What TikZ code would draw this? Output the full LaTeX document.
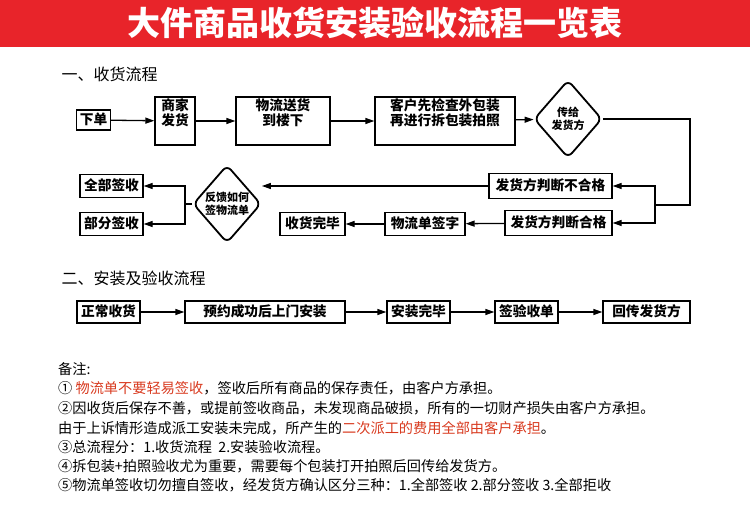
\documentclass[tikz,border=0pt]{standalone}
\usepackage{fontspec}
\setmainfont{Noto Sans CJK SC}
\usetikzlibrary{shapes.geometric,arrows.meta}
\definecolor{hdr}{HTML}{E8242A}
\definecolor{rd}{HTML}{D8391E}
\begin{document}
\begin{tikzpicture}[x=1pt,y=-1pt,
  bx/.style={draw,line width=1.3pt,font=\bfseries\fontsize{13.7}{15.5}\selectfont,inner sep=0pt,align=center,text height=11pt},
  dm/.style={draw,line width=1.8pt,diamond,aspect=0.85,inner sep=0pt,minimum width=68pt,minimum height=78pt,font=\bfseries\fontsize{11}{13}\selectfont,align=center,rounded corners=6pt},
  ar/.style={line width=1.3pt,-{Triangle[length=9pt,width=6pt]}},
  ln/.style={line width=1.3pt},
  nt/.style={anchor=west,font=\fontsize{14.2}{16}\selectfont,inner sep=0pt}]
\useasboundingbox (0,0) rectangle (750,529);
\fill[hdr] (0,0) rectangle (750,47);
\node[text=white,font=\bfseries\fontsize{33}{36}\selectfont] (title) at (375,23) {大件商品收货安装验收流程一览表};
\node[anchor=west,font=\fontsize{16}{18}\selectfont] (s1) at (58,74) {一、收货流程};
\node[bx,minimum width=34pt,minimum height=20pt] (a) at (93.5,120) {下单};
\node[bx,minimum width=40pt,minimum height=48pt] (b) at (175,121) {商家\\发货};
\node[bx,minimum width=94pt,minimum height=48pt] (c) at (283,121) {物流送货\\到楼下};
\node[bx,minimum width=140pt,minimum height=48pt] (d) at (445,121) {客户先检查外包装\\再进行拆包装拍照};
\node[dm] (e) at (568,119) {传给\\发货方};
\node[bx,minimum width=123pt,minimum height=25pt] (f) at (550.5,186) {发货方判断不合格};
\node[bx,minimum width=107pt,minimum height=25pt] (g) at (558.5,223) {发货方判断合格};
\node[dm] (h) at (227,204) {反馈如何\\签物流单};
\node[bx,minimum width=63pt,minimum height=23pt] (i) at (111.5,186) {全部签收};
\node[bx,minimum width=63pt,minimum height=23pt] (j) at (111.5,224) {部分签收};
\node[bx,minimum width=80pt,minimum height=23pt] (k) at (425,224) {物流单签字};
\node[bx,minimum width=65pt,minimum height=23pt] (l) at (312.5,224) {收货完毕};
\draw[ar] (a) -- (b);
\draw[ar] (b) -- (c);
\draw[ar] (c) -- (d);
\draw[ar] (d) -- (e);
\coordinate (p1) at (690,205);
\coordinate (p2) at (655,205);
\draw[ln] (e.east) -| (p1) -- (p2);
\draw[ar] (p2) |- (f.east);
\draw[ar] (p2) |- (g.east);
\draw[ar] (f.west) -- (h.east|-f.west);
\coordinate (q) at (185,204);
\draw[ln] (h.west) -- (q);
\draw[ar] (q) |- (i.east);
\draw[ar] (q) |- (j.east);
\draw[ar] (g) -- (k);
\draw[ar] (k) -- (l);
\node[anchor=west,font=\fontsize{16}{18}\selectfont] (s2) at (58,278) {二、安装及验收流程};
\node[bx,minimum width=63pt,minimum height=22pt] (m1) at (108.5,312) {正常收货};
\node[bx,minimum width=160pt,minimum height=22pt] (m2) at (265,312) {预约成功后上门安装};
\node[bx,minimum width=63pt,minimum height=22pt] (m3) at (418.5,312) {安装完毕};
\node[bx,minimum width=63pt,minimum height=22pt] (m4) at (526.5,312) {签验收单};
\node[bx,minimum width=87pt,minimum height=22pt] (m5) at (646.5,312) {回传发货方};
\draw[ar] (m1) -- (m2);
\draw[ar] (m2) -- (m3);
\draw[ar] (m3) -- (m4);
\draw[ar] (m4) -- (m5);
\node[nt] (n0) at (58,369) {备注:};
\node[nt] (n1) at (58,388) {① \textcolor{rd}{物流单不要轻易签收}，签收后所有商品的保存责任，由客户方承担。};
\node[nt] (n2) at (58,408) {②因收货后保存不善，或提前签收商品，未发现商品破损，所有的一切财产损失由客户方承担。};
\node[nt] (n3) at (58,428) {由于上诉情形造成派工安装未完成，所产生的\textcolor{rd}{二次派工的费用全部由客户承担}。};
\node[nt] (n4) at (58,447) {③总流程分：1.收货流程\ \ 2.安装验收流程。};
\node[nt] (n5) at (58,466) {④拆包装+拍照验收尤为重要，需要每个包装打开拍照后回传给发货方。};
\node[nt] (n6) at (58,485) {⑤物流单签收切勿擅自签收，经发货方确认区分三种：1.全部签收 2.部分签收 3.全部拒收};
\end{tikzpicture}
\end{document}
